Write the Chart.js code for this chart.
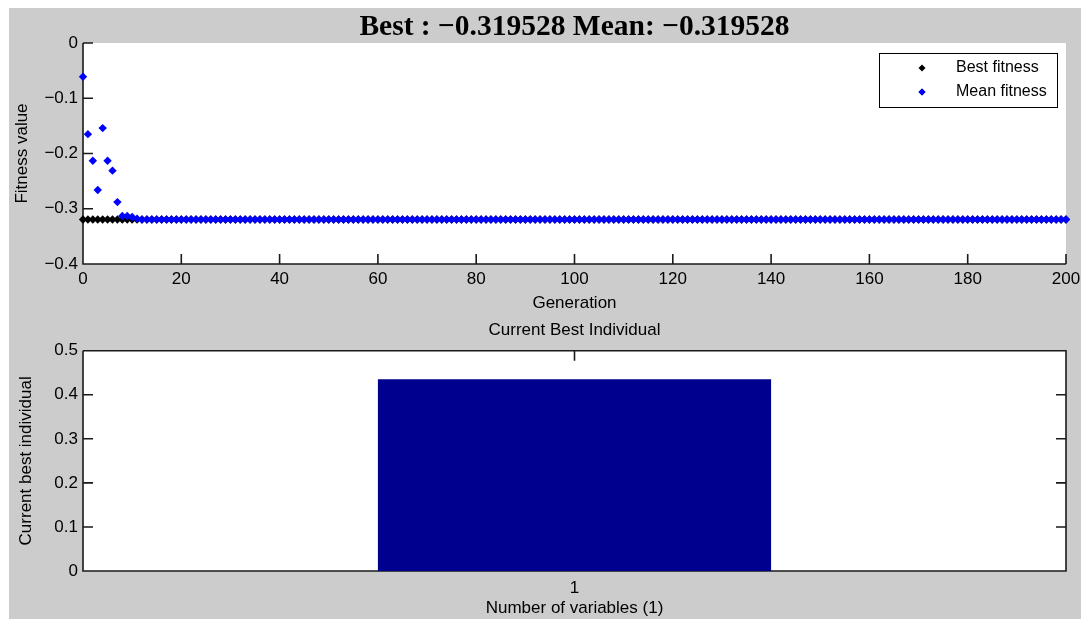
<!DOCTYPE html>
<html>
<head>
<meta charset="utf-8">
<title>GA fitness</title>
<script src="https://cdn.jsdelivr.net/npm/chart.js@4.4.1/dist/chart.umd.min.js"></script>
<style>
  html, body { margin: 0; padding: 0; background: #fff; }
  body { width: 1081px; height: 619px; position: relative; overflow: hidden; }
  .figure { position: absolute; left: 9px; top: 8px; right: 0; bottom: 0; background: #cccccc; }
  canvas { position: absolute; left: 0; }
  #fitness { top: 0; }
  #individual { top: 318px; }
</style>
</head>
<body>
<div class="figure"></div>
<canvas id="fitness" width="1081" height="318"></canvas>
<canvas id="individual" width="1081" height="301"></canvas>
<script>
// generations 0..200
var generations = Array.from({ length: 201 }, function (_, i) { return i })

// best fitness per generation
var bestFitness = [
    -0.3195, -0.3195, -0.3195, -0.3195, -0.3195, -0.3195, -0.3195, -0.3195, -0.3195, -0.3195,
    -0.3195, -0.3195, -0.3195, -0.3195, -0.3195, -0.3195, -0.3195, -0.3195, -0.3195, -0.3195,
    -0.3195, -0.3195, -0.3195, -0.3195, -0.3195, -0.3195, -0.3195, -0.3195, -0.3195, -0.3195,
    -0.3195, -0.3195, -0.3195, -0.3195, -0.3195, -0.3195, -0.3195, -0.3195, -0.3195, -0.3195,
    -0.3195, -0.3195, -0.3195, -0.3195, -0.3195, -0.3195, -0.3195, -0.3195, -0.3195, -0.3195,
    -0.3195, -0.3195, -0.3195, -0.3195, -0.3195, -0.3195, -0.3195, -0.3195, -0.3195, -0.3195,
    -0.3195, -0.3195, -0.3195, -0.3195, -0.3195, -0.3195, -0.3195, -0.3195, -0.3195, -0.3195,
    -0.3195, -0.3195, -0.3195, -0.3195, -0.3195, -0.3195, -0.3195, -0.3195, -0.3195, -0.3195,
    -0.3195, -0.3195, -0.3195, -0.3195, -0.3195, -0.3195, -0.3195, -0.3195, -0.3195, -0.3195,
    -0.3195, -0.3195, -0.3195, -0.3195, -0.3195, -0.3195, -0.3195, -0.3195, -0.3195, -0.3195,
    -0.3195, -0.3195, -0.3195, -0.3195, -0.3195, -0.3195, -0.3195, -0.3195, -0.3195, -0.3195,
    -0.3195, -0.3195, -0.3195, -0.3195, -0.3195, -0.3195, -0.3195, -0.3195, -0.3195, -0.3195,
    -0.3195, -0.3195, -0.3195, -0.3195, -0.3195, -0.3195, -0.3195, -0.3195, -0.3195, -0.3195,
    -0.3195, -0.3195, -0.3195, -0.3195, -0.3195, -0.3195, -0.3195, -0.3195, -0.3195, -0.3195,
    -0.3195, -0.3195, -0.3195, -0.3195, -0.3195, -0.3195, -0.3195, -0.3195, -0.3195, -0.3195,
    -0.3195, -0.3195, -0.3195, -0.3195, -0.3195, -0.3195, -0.3195, -0.3195, -0.3195, -0.3195,
    -0.3195, -0.3195, -0.3195, -0.3195, -0.3195, -0.3195, -0.3195, -0.3195, -0.3195, -0.3195,
    -0.3195, -0.3195, -0.3195, -0.3195, -0.3195, -0.3195, -0.3195, -0.3195, -0.3195, -0.3195,
    -0.3195, -0.3195, -0.3195, -0.3195, -0.3195, -0.3195, -0.3195, -0.3195, -0.3195, -0.3195,
    -0.3195, -0.3195, -0.3195, -0.3195, -0.3195, -0.3195, -0.3195, -0.3195, -0.3195, -0.3195,
    -0.3195
]

// mean fitness per generation
var meanFitness = [
    -0.061, -0.165, -0.213, -0.266, -0.154, -0.213, -0.231, -0.288, -0.313, -0.313,
    -0.315, -0.318, -0.3195, -0.3195, -0.3195, -0.3195, -0.3195, -0.3195, -0.3195, -0.3195,
    -0.3195, -0.3195, -0.3195, -0.3195, -0.3195, -0.3195, -0.3195, -0.3195, -0.3195, -0.3195,
    -0.3195, -0.3195, -0.3195, -0.3195, -0.3195, -0.3195, -0.3195, -0.3195, -0.3195, -0.3195,
    -0.3195, -0.3195, -0.3195, -0.3195, -0.3195, -0.3195, -0.3195, -0.3195, -0.3195, -0.3195,
    -0.3195, -0.3195, -0.3195, -0.3195, -0.3195, -0.3195, -0.3195, -0.3195, -0.3195, -0.3195,
    -0.3195, -0.3195, -0.3195, -0.3195, -0.3195, -0.3195, -0.3195, -0.3195, -0.3195, -0.3195,
    -0.3195, -0.3195, -0.3195, -0.3195, -0.3195, -0.3195, -0.3195, -0.3195, -0.3195, -0.3195,
    -0.3195, -0.3195, -0.3195, -0.3195, -0.3195, -0.3195, -0.3195, -0.3195, -0.3195, -0.3195,
    -0.3195, -0.3195, -0.3195, -0.3195, -0.3195, -0.3195, -0.3195, -0.3195, -0.3195, -0.3195,
    -0.3195, -0.3195, -0.3195, -0.3195, -0.3195, -0.3195, -0.3195, -0.3195, -0.3195, -0.3195,
    -0.3195, -0.3195, -0.3195, -0.3195, -0.3195, -0.3195, -0.3195, -0.3195, -0.3195, -0.3195,
    -0.3195, -0.3195, -0.3195, -0.3195, -0.3195, -0.3195, -0.3195, -0.3195, -0.3195, -0.3195,
    -0.3195, -0.3195, -0.3195, -0.3195, -0.3195, -0.3195, -0.3195, -0.3195, -0.3195, -0.3195,
    -0.3195, -0.3195, -0.3195, -0.3195, -0.3195, -0.3195, -0.3195, -0.3195, -0.3195, -0.3195,
    -0.3195, -0.3195, -0.3195, -0.3195, -0.3195, -0.3195, -0.3195, -0.3195, -0.3195, -0.3195,
    -0.3195, -0.3195, -0.3195, -0.3195, -0.3195, -0.3195, -0.3195, -0.3195, -0.3195, -0.3195,
    -0.3195, -0.3195, -0.3195, -0.3195, -0.3195, -0.3195, -0.3195, -0.3195, -0.3195, -0.3195,
    -0.3195, -0.3195, -0.3195, -0.3195, -0.3195, -0.3195, -0.3195, -0.3195, -0.3195, -0.3195,
    -0.3195, -0.3195, -0.3195, -0.3195, -0.3195, -0.3195, -0.3195, -0.3195, -0.3195, -0.3195,
    -0.3195
]

var titleText = "Best : \u22120.319528 Mean: \u22120.319528"

// bottom plot
var variableLabels = ["1"]
var bestIndividual = [0.435]

Chart.defaults.font.family = '"Liberation Sans", Arial, sans-serif'
Chart.defaults.font.size = 17
Chart.defaults.color = "#000"
Chart.defaults.animation = false

function toPoints(values) {
    return values.map(function (v, i) { return { x: generations[i], y: v } })
}

// y labels with a real minus sign, like matlab
function minusLabel(value) {
    var s = String(Math.round(value * 10) / 10)
    return s.replace("-", "\u2212")
}

// white axes area + matlab style frame with inward ticks
var framePlugin = {
    id: "frame",
    beforeDatasetsDraw: function (chart, args, o) {
        var ctx = chart.ctx
        var a = chart.chartArea
        var x = chart.scales.x
        var y = chart.scales.y
        ctx.save()
        ctx.fillStyle = "#fff"
        ctx.fillRect(a.left, a.top, a.right - a.left, a.bottom - a.top)
        ctx.strokeStyle = "#1a1a1a"
        ctx.lineWidth = 1.6
        ctx.beginPath()
        ctx.moveTo(a.left, a.top)
        ctx.lineTo(a.left, a.bottom)
        ctx.lineTo(a.right, a.bottom)
        if (o.box) {
            ctx.lineTo(a.right, a.top)
            ctx.lineTo(a.left, a.top)
        }
        y.ticks.forEach(function (t, i) {
            var p = y.getPixelForTick(i)
            ctx.moveTo(a.left, p)
            ctx.lineTo(a.left + o.len, p)
            if (o.box) {
                ctx.moveTo(a.right, p)
                ctx.lineTo(a.right - o.len, p)
            }
        })
        x.ticks.forEach(function (t, i) {
            var p = x.getPixelForTick(i)
            ctx.moveTo(p, a.bottom)
            ctx.lineTo(p, a.bottom - o.len)
            if (o.box) {
                ctx.moveTo(p, a.top)
                ctx.lineTo(p, a.top + o.len)
            }
        })
        ctx.stroke()
        ctx.restore()
    }
}

// legend box inside the axes, top right
var boxLegend = {
    id: "boxLegend",
    afterDraw: function (chart, args, o) {
        if (!o.show) return
        var ctx = chart.ctx
        var a = chart.chartArea
        var left = a.right - o.right - o.width
        var top = a.top + o.top
        ctx.save()
        ctx.fillStyle = "#fff"
        ctx.fillRect(left, top, o.width, o.height)
        ctx.strokeStyle = "#000"
        ctx.lineWidth = 1
        ctx.strokeRect(left + 0.5, top + 0.5, o.width, o.height)
        ctx.font = o.fontSize + 'px "Liberation Sans", Arial, sans-serif'
        ctx.textBaseline = "middle"
        ctx.textAlign = "left"
        chart.data.datasets.forEach(function (ds, i) {
            var cy = top + o.firstRow + i * o.rowGap
            Chart.helpers.drawPoint(ctx, {
                pointStyle: ds.pointStyle,
                radius: 3.5,
                borderWidth: 0
            }, left + o.markerX, cy)
            ctx.fillStyle = ds.backgroundColor
            ctx.fill()
            ctx.fillStyle = "#000"
            ctx.fillText(ds.label, left + o.textX, cy)
        })
        ctx.restore()
    }
}

var fitnessChart = new Chart(document.getElementById("fitness"), {
    type: "scatter",
    data: {
        datasets: [
            {
                label: "Best fitness",
                data: toPoints(bestFitness),
                backgroundColor: "#000",
                borderColor: "#000",
                pointStyle: "rectRot",
                pointRadius: 4.2,
                pointBorderWidth: 0,
                clip: false,
                order: 1
            },
            {
                label: "Mean fitness",
                data: toPoints(meanFitness),
                backgroundColor: "#0000ff",
                borderColor: "#0000ff",
                pointStyle: "rectRot",
                pointRadius: 4.2,
                pointBorderWidth: 0,
                clip: false,
                order: 0
            }
        ]
    },
    options: {
        responsive: false,
        layout: { padding: { left: 0, right: 15, top: 0, bottom: 0 } },
        plugins: {
            legend: { display: false },
            tooltip: { enabled: false },
            title: {
                display: true,
                text: titleText,
                fullSize: false,
                color: "#000",
                font: { family: '"Liberation Serif", "Times New Roman", serif', size: 29.5, weight: "bold", lineHeight: 1 },
                padding: { top: 13, bottom: 0.5 }
            },
            frame: { box: false, len: 10 },
            boxLegend: {
                show: true, right: 9, top: 10, width: 178, height: 54,
                markerX: 43, textX: 77, firstRow: 15, rowGap: 24, fontSize: 16
            }
        },
        scales: {
            x: {
                type: "linear",
                min: 0,
                max: 200,
                grid: { display: false, drawTicks: false },
                border: { display: false },
                ticks: { stepSize: 20, maxRotation: 0, autoSkip: false, padding: 4.8 },
                title: { display: true, text: "Generation", padding: { top: 0, bottom: 4.8 } },
                afterFit: function (s) {
                    s.height = 54
                    s.paddingRight = 0
                    s.paddingLeft = 0
                }
            },
            y: {
                min: -0.4,
                max: 0,
                grid: { display: false, drawTicks: false },
                border: { display: false },
                ticks: { stepSize: 0.1, padding: 5, callback: minusLabel },
                title: { display: true, text: "Fitness value", padding: { top: 11.8, bottom: 0 } },
                afterFit: function (s) { s.width = 83 }
            }
        }
    },
    plugins: [framePlugin, boxLegend]
})

var individualChart = new Chart(document.getElementById("individual"), {
    type: "bar",
    data: {
        labels: variableLabels,
        datasets: [{
            label: "Current best individual",
            data: bestIndividual,
            backgroundColor: "#00008f",
            borderWidth: 0,
            categoryPercentage: 1,
            barPercentage: 0.4
        }]
    },
    options: {
        responsive: false,
        layout: { padding: { left: 0, right: 15, top: 0, bottom: 0 } },
        plugins: {
            legend: { display: false },
            tooltip: { enabled: false },
            title: {
                display: true,
                text: "Current Best Individual",
                fullSize: false,
                color: "#000",
                font: { size: 17, weight: "normal" },
                padding: { top: 1.8, bottom: 10.5 }
            },
            frame: { box: true, len: 10 },
            boxLegend: { show: false }
        },
        scales: {
            x: {
                grid: { display: false, drawTicks: false },
                border: { display: false },
                ticks: { padding: 6.8 },
                title: { display: true, text: "Number of variables (1)", padding: { top: 0, bottom: 0 } },
                afterFit: function (s) { s.height = 48 }
            },
            y: {
                min: 0,
                max: 0.5,
                grid: { display: false, drawTicks: false },
                border: { display: false },
                ticks: { stepSize: 0.1, padding: 5 },
                title: { display: true, text: "Current best individual", padding: { top: 16.5, bottom: 0 } },
                afterFit: function (s) { s.width = 83 }
            }
        }
    },
    plugins: [framePlugin, boxLegend]
})
</script>
</body>
</html>
